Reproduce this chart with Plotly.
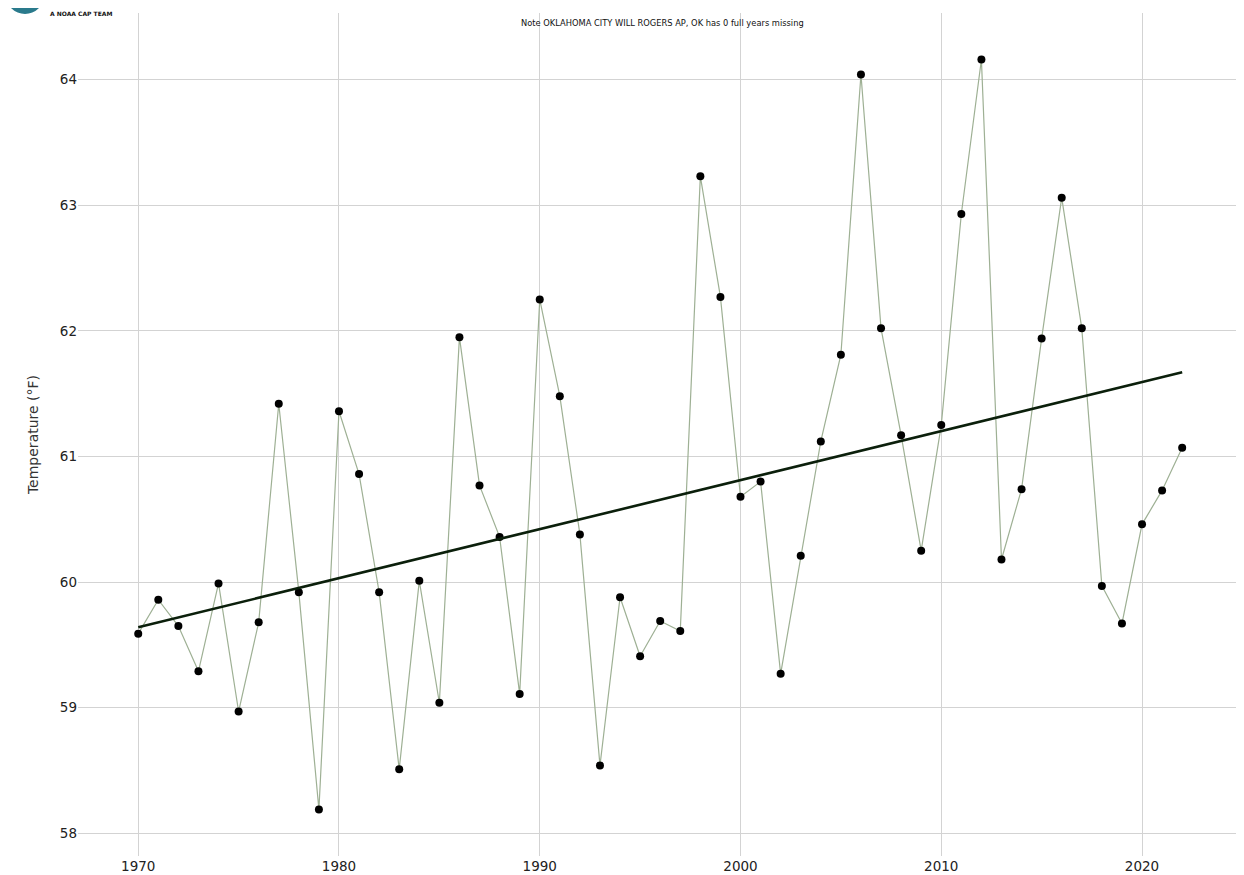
import numpy as np
import plotly.graph_objects as go

years = list(range(1970, 2023))
temps = [
    59.59, 59.86, 59.65, 59.29, 59.99, 58.97, 59.68, 61.42, 59.92, 58.19,
    61.36, 60.86, 59.92, 58.51, 60.01, 59.04, 61.95, 60.77, 60.36, 59.11,
    62.25, 61.48, 60.38, 58.54, 59.88, 59.41, 59.69, 59.61, 63.23, 62.27,
    60.68, 60.80, 59.27, 60.21, 61.12, 61.81, 64.04, 62.02, 61.17, 60.25,
    61.25, 62.93, 64.16, 60.18, 60.74, 61.94, 63.06, 62.02, 59.97, 59.67,
    60.46, 60.73, 61.07,
]
x_ticks = [1970, 1980, 1990, 2000, 2010, 2020]
y_ticks = [58, 59, 60, 61, 62, 63, 64]
note_text = "Note OKLAHOMA CITY WILL ROGERS AP, OK has 0 full years missing"
y_title = "Temperature (°F)"
logo_text = "A NOAA CAP TEAM"

slope, intercept = np.polyfit(years, temps, 1)
trend_x = [years[0], years[-1]]
trend_y = [slope * v + intercept for v in trend_x]

fig = go.Figure()
fig.add_trace(go.Scatter(
    x=years, y=temps, mode="lines+markers",
    line=dict(color="rgb(158,176,148)", width=1.2),
    marker=dict(color="black", size=8),
    showlegend=False, hoverinfo="x+y",
))
fig.add_trace(go.Scatter(
    x=trend_x, y=trend_y, mode="lines",
    line=dict(color="#0b1f0b", width=2.6),
    showlegend=False,
))

# page has an 8px body margin; figure size/margins account for it
OFF = 8
PL, PT, PW, PH = 78 - OFF, 13 - OFF, 1166, 843

font_family = "DejaVu Sans, Verdana, sans-serif"
fig.update_layout(
    width=1244 - OFF, height=875 - OFF,
    margin=dict(l=PL, r=0, t=PT, b=(875 - OFF) - PT - PH),
    plot_bgcolor="white", paper_bgcolor="white",
    font=dict(family=font_family, size=13.5, color="#222"),
    xaxis=dict(
        range=[1967.0, 2025.08], tickvals=x_ticks,
        showgrid=True, gridcolor="#d3d3d3", gridwidth=1,
        zeroline=False, showline=False, ticks="",
        tickfont=dict(size=13.5, color="#222"), automargin=False,
    ),
    yaxis=dict(
        range=[57.82, 64.53], tickvals=y_ticks,
        showgrid=True, gridcolor="#d3d3d3", gridwidth=1,
        zeroline=False, showline=False, ticks="",
        tickfont=dict(size=13.5, color="#222"), automargin=False,
        title=dict(text=y_title, font=dict(size=14, color="#333"), standoff=17),
    ),
    annotations=[
        dict(text=note_text, xref="paper", yref="paper",
             x=(662 - 78) / PW, y=1 - (23 - 13) / PH,
             xanchor="center", yanchor="middle", showarrow=False,
             font=dict(size=8.3, color="#111", family=font_family)),
        dict(text="<b>" + logo_text + "</b>", xref="paper", yref="paper",
             x=(48 - 78) / PW, y=1 - (13 - 13) / PH,
             xanchor="left", yanchor="middle", showarrow=False,
             font=dict(size=6, color="#111", family=font_family)),
    ],
    shapes=[
        dict(type="circle", xref="paper", yref="paper",
             x0=(6 - 78) / PW, x1=(44 - 78) / PW,
             y0=1 + (13 - 14) / PH, y1=1 + (13 + 24) / PH,
             fillcolor="#2a7a8c", line=dict(width=0), layer="above"),
    ],
)

fig.write_html("out.html")
